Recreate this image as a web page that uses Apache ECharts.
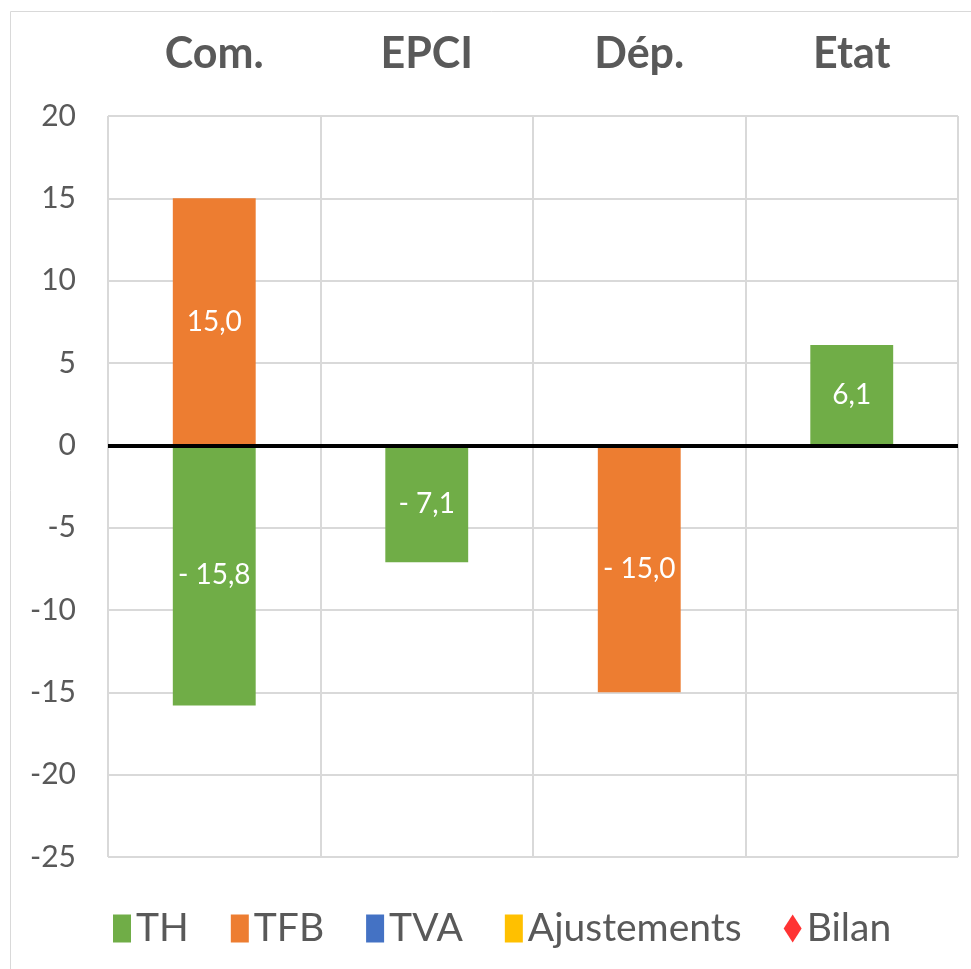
<!DOCTYPE html>
<html>
<head>
<meta charset="utf-8">
<script src="https://cdn.jsdelivr.net/npm/echarts@6/dist/echarts.min.js"></script>
<style>
  html, body { margin: 0; padding: 0; background: #fff; }
  #chart { width: 971px; height: 969px; }
</style>
</head>
<body>
<div id="chart"></div>
<script>
"use strict";

// categories and series values
const categories = ['Com.', 'EPCI', 'Dép.', 'Etat'];
const thValues = [-15.8, -7.1, null, 6.1];
const tfbValues = [15.0, null, -15.0, null];
const tvaValues = [null, null, null, null];
const ajustValues = [null, null, null, null];
const bilanValues = [null, null, null, null];

const FONT = 'Lato, "Open Sans", sans-serif';

// format "15,0" / "- 15,8"
const fmt = (v) => {
    const s = Math.abs(v).toFixed(1).replace('.', ',');
    return v < 0 ? '- ' + s : s;
};

const barLabel = {
    show: true,
    position: 'inside',
    color: '#fff',
    fontSize: 28,
    fontFamily: FONT,
    formatter: (p) => fmt(p.value)
};

var myChart = echarts.init(document.getElementById('chart'));

var option = {
    animation: false,
    textStyle: { fontFamily: FONT },
    // cadre du graphique
    graphic: [{
        type: 'rect',
        shape: { x: 10.5, y: 11.5, width: 980, height: 980 },
        style: { fill: 'none', stroke: '#d9d9d9', lineWidth: 1 },
        silent: true
    }],
    grid: { left: 108, right: 13, top: 116, bottom: 112 },
    legend: {
        left: 108,
        top: 904,
        itemWidth: 18,
        itemHeight: 28,
        itemGap: 42,
        textStyle: { fontSize: 39, color: '#595959', fontFamily: FONT },
        data: [
            { name: 'TH', icon: 'rect' },
            { name: 'TFB', icon: 'rect' },
            { name: 'TVA', icon: 'rect' },
            { name: 'Ajustements', icon: 'rect' },
            { name: 'Bilan', icon: 'diamond' }
        ]
    },
    xAxis: {
        type: 'category',
        position: 'top',
        data: categories,
        axisLine: { show: false },
        axisTick: { show: false },
        axisLabel: {
            fontSize: 43,
            fontWeight: 'bold',
            color: '#595959',
            margin: 40,
            fontFamily: FONT
        },
        splitLine: { show: true, lineStyle: { color: '#d9d9d9', width: 2 } }
    },
    yAxis: {
        type: 'value',
        min: -25,
        max: 20,
        interval: 5,
        axisLine: { show: false },
        axisTick: { show: false },
        axisLabel: { fontSize: 30, color: '#595959', margin: 32, fontFamily: FONT },
        splitLine: { show: true, lineStyle: { color: '#d9d9d9', width: 2 } }
    },
    series: [
        {
            name: 'TH', type: 'bar', stack: 'total', data: thValues,
            barWidth: '39%', itemStyle: { color: '#70ad47' }, label: barLabel,
            markLine: {
                silent: true, symbol: 'none', label: { show: false },
                lineStyle: { color: '#000', width: 4, type: 'solid' },
                data: [{ yAxis: 0 }]
            }
        },
        {
            name: 'TFB', type: 'bar', stack: 'total', data: tfbValues,
            barWidth: '39%', itemStyle: { color: '#ed7d31' }, label: barLabel
        },
        {
            name: 'TVA', type: 'bar', stack: 'total', data: tvaValues,
            barWidth: '39%', itemStyle: { color: '#4472c4' }, label: barLabel
        },
        {
            name: 'Ajustements', type: 'bar', stack: 'total', data: ajustValues,
            barWidth: '39%', itemStyle: { color: '#ffc000' }, label: barLabel
        },
        {
            name: 'Bilan', type: 'scatter', data: bilanValues,
            symbol: 'diamond', symbolSize: 28, itemStyle: { color: '#ff0000' }
        }
    ]
};

myChart.setOption(option);
</script>
</body>
</html>
